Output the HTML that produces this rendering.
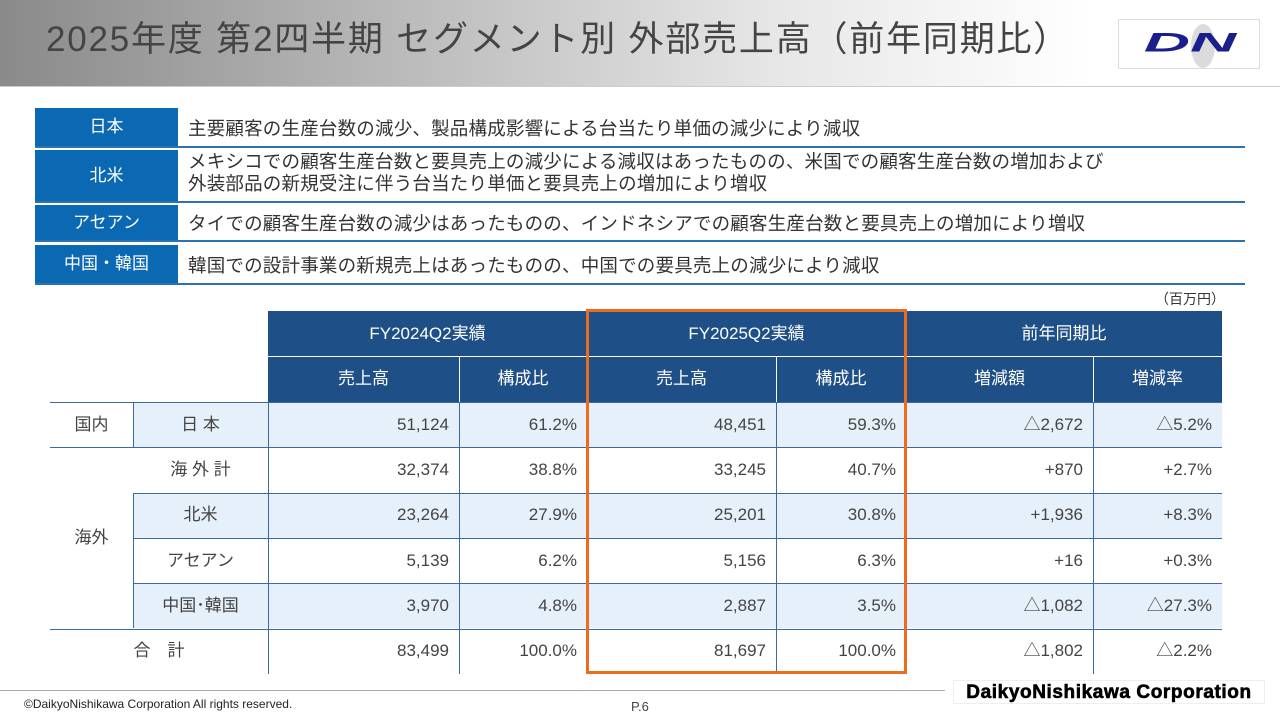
<!DOCTYPE html>
<html><head><meta charset="utf-8">
<style>
*{margin:0;padding:0;box-sizing:border-box}
body{width:1280px;height:720px;position:relative;background:#fff;font-family:"Liberation Sans","Noto Sans CJK JP",sans-serif;color:#333;overflow:hidden}
.a{position:absolute}
.hdr{left:0;top:0;width:1280px;height:87px;background:linear-gradient(90deg,#8a8a8a 0%,#b8b8b8 30%,#e6e6e6 60%,#fff 85%);border-bottom:1px solid #ccc}
.title{left:46px;top:18px;font-size:35px;line-height:44px;color:#444;letter-spacing:1.8px;white-space:nowrap}
.seg{left:35px;width:143px;background:#0b69b3;color:#fff;font-size:17px;display:flex;align-items:center;justify-content:center;line-height:22px}
.segt{left:188px;font-size:18.5px;color:#333;line-height:22px;white-space:nowrap;letter-spacing:0.2px}
.segl{left:35px;width:1210px;height:2px;background:#2f70b0}
.c{position:absolute;display:flex;align-items:center;font-size:17px;line-height:20px;white-space:nowrap}
.h{background:#1f4f87;color:#fff;justify-content:center}
.r{justify-content:flex-end;padding-right:10px;color:#444}
.m{justify-content:center;color:#444}
.hl{position:absolute;height:1px;background:#3b6aa0}
.vl{position:absolute;width:1px;background:#3b6aa0}
.vw{position:absolute;width:1px;background:#fff}
</style></head><body>
<div class="a hdr"></div>
<div class="a title">2025年度 第2四半期 セグメント別 外部売上高（前年同期比）</div>
<div class="a" style="left:1118px;top:19px;width:142px;height:50px;background:#fff;border:1px solid #ddd">
<svg width="142" height="50"><ellipse cx="84" cy="26" rx="12" ry="22" fill="#ccc" opacity="0.7"/><text x="71" y="37" text-anchor="middle" font-family="Liberation Sans" font-weight="bold" font-style="italic" font-size="32" fill="#1a1f8c" transform="translate(71,0) scale(2.0,0.85) translate(-71,0)">DN</text></svg></div>

<div class="a seg" style="top:108px;height:38px">日本</div>
<div class="a segt" style="top:118px">主要顧客の生産台数の減少、製品構成影響による台当たり単価の減少により減収</div>
<div class="a segl" style="top:146px"></div>
<div class="a seg" style="top:150px;height:51px">北米</div>
<div class="a segt" style="top:151px">メキシコでの顧客生産台数と要具売上の減少による減収はあったものの、米国での顧客生産台数の増加および<br>外装部品の新規受注に伴う台当たり単価と要具売上の増加により増収</div>
<div class="a segl" style="top:201px"></div>
<div class="a seg" style="top:205px;height:35px">アセアン</div>
<div class="a segt" style="top:213px">タイでの顧客生産台数の減少はあったものの、インドネシアでの顧客生産台数と要具売上の増加により増収</div>
<div class="a segl" style="top:240px"></div>
<div class="a seg" style="top:245px;height:38px">中国・韓国</div>
<div class="a segt" style="top:255px">韓国での設計事業の新規売上はあったものの、中国での要具売上の減少により減収</div>
<div class="a segl" style="top:283px"></div>

<div class="a" style="left:1155px;top:289px;font-size:14px;color:#333">（百万円）</div>

<div id="tbl"></div>

<div class="a" style="left:586px;top:309px;width:321px;height:365px;border:3px solid #ec6c1f"></div>

<div class="a" style="left:0;top:690px;width:945px;height:1px;background:#aaa"></div>
<div class="a" style="left:24px;top:697px;font-size:12px;color:#222">©DaikyoNishikawa Corporation All rights reserved.</div>
<div class="a" style="left:631px;top:699px;font-size:13px;color:#444">P.6</div>
<div class="a" style="left:953px;top:680px;width:312px;height:24px;font-size:19px;font-weight:bold;color:#000;border:1px solid #eee;text-align:center;line-height:24px;letter-spacing:0.6px;-webkit-text-stroke:0.6px #000;white-space:nowrap">DaikyoNishikawa Corporation</div>

<script>
const rowLabels=["日 本","海 外 計","北米","アセアン","中国･韓国","合　計"];
const sales2024=["51,124","32,374","23,264","5,139","3,970","83,499"];
const ratio2024=["61.2%","38.8%","27.9%","6.2%","4.8%","100.0%"];
const sales2025=["48,451","33,245","25,201","5,156","2,887","81,697"];
const ratio2025=["59.3%","40.7%","30.8%","6.3%","3.5%","100.0%"];
const diffAmt=["△2,672","+870","+1,936","+16","△1,082","△1,802"];
const diffRate=["△5.2%","+2.7%","+8.3%","+0.3%","△27.3%","△2.2%"];
const X=[50,133,268,459,587,776,906,1093,1222];
const T=document.getElementById('tbl');
function add(cls,l,t,w,h,txt){const d=document.createElement('div');d.className=cls;d.style.cssText=`left:${l}px;top:${t}px;width:${w}px;height:${h}px`;if(txt!==undefined)d.textContent=txt;T.appendChild(d);return d;}
let e;
e=add('c h',268,311,319,45,'FY2024Q2実績');


e=add('c h',587,311,319,45,'FY2025Q2実績');


e=add('c h',906,311,316,45,'前年同期比');


const sub=["売上高","構成比","売上高","構成比","増減額","増減率"];
for(let i=0;i<6;i++){e=add('c h',X[i+2],356,X[i+3]-X[i+2],46,sub[i]);

}
[459,776,1093].forEach(x=>{add('vw',x,356,1,46);});
[587,906].forEach(x=>{add('vw',x,311,1,91);});
add('hl',268,356,954,1).style.background='#fff';
const top0=402,rh=45.3;
const shaded=[true,false,true,false,true,false];
for(let r=0;r<6;r++){
 const y=top0+r*rh;
 if(shaded[r]){e=add('a',133,y,1089,rh);e.style.background='#e6f0fb';}
 const cells=[sales2024[r],ratio2024[r],sales2025[r],ratio2025[r],diffAmt[r],diffRate[r]];
 e=add('c m',133,y,135,rh,rowLabels[r]);
 
 
 if(r===5){e.style.left='50px';e.style.width='218px';}
 for(let i=0;i<6;i++){e=add('c r',X[i+2],y,X[i+3]-X[i+2],rh,cells[i]);
 
 }
}
e=add('c m',50,top0,83,rh,'国内');


e=add('c m',50,top0+rh,83,rh*4,'海外');


add('hl',50,top0,1172,1);
add('hl',50,top0+rh,1172,1);
for(let r=2;r<5;r++)add('hl',133,top0+r*rh,1089,1);
add('hl',50,top0+5*rh,1172,1);
add('vl',133,top0,1,rh);
add('vl',133,top0+2*rh,1,rh*3);
for(let i=2;i<8;i++)add('vl',X[i],top0,1,rh*6);
</script>
</body></html>
